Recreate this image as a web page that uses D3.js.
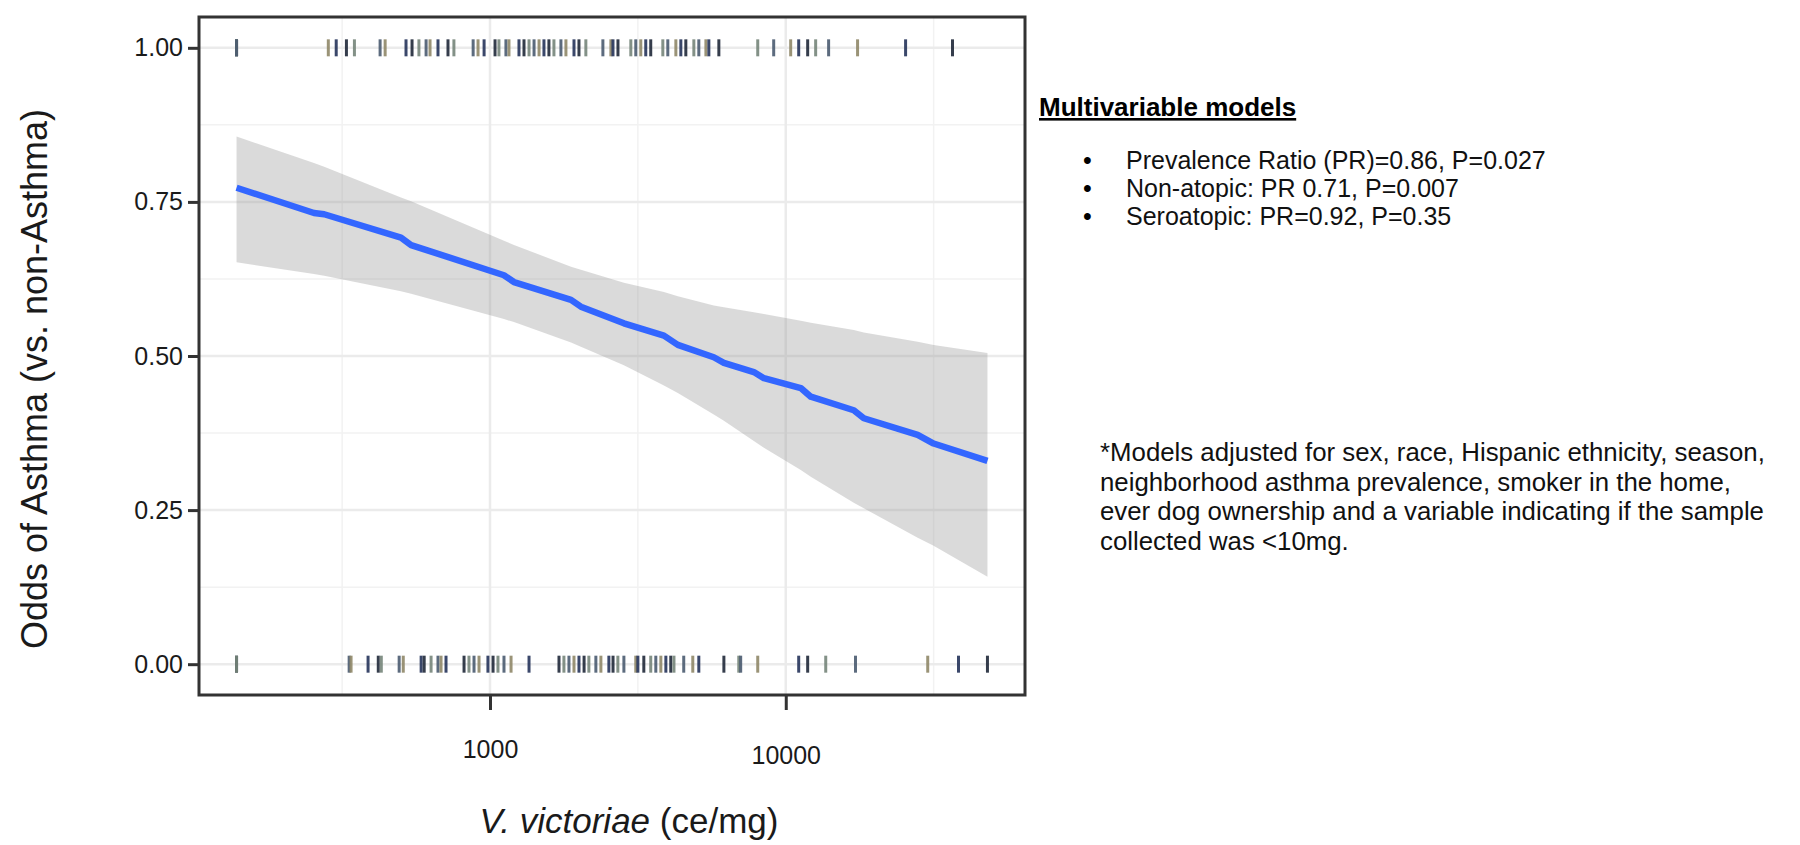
<!DOCTYPE html>
<html>
<head>
<meta charset="utf-8">
<script src="https://cdn.jsdelivr.net/npm/d3@7"></script>
<style>
  body { margin: 0; background: #fff; }
  svg { display: block; font-family: "Liberation Sans", Arial, sans-serif; }
</style>
</head>
<body>
<svg></svg>
<script>
const width = 1800;
const height = 845;

// V. victoriae (ce/mg) of each child, asthma cases drawn at 1, non-cases at 0
const asthmaConc = [139, 139, 139, 284, 302, 327, 348, 425, 442, 520, 545, 575, 608, 627, 667, 721, 755,
  877, 911, 955, 1040, 1072, 1132, 1159, 1253, 1303, 1355, 1409, 1465, 1522, 1582, 1645, 1737, 1806,
  1923, 1999, 2109, 2408, 2563, 2605, 2708, 2993, 3111, 3234, 3362, 3495, 3840, 3992, 4250, 4418,
  4593, 4889, 5082, 5370, 5495, 5940, 8040, 9103, 10390, 11060, 11860, 12620, 13960, 17490, 25420, 36620];
const nonAsthmaConc = [139, 139, 334, 339, 387, 419, 429, 493, 509, 585, 599, 632, 667, 683, 710, 817, 849,
  883, 918, 984, 1024, 1064, 1115, 1178, 1355, 1711, 1778, 1849, 1923, 1999, 2080, 2159, 2280, 2371,
  2523, 2606, 2706, 2836, 3111, 3162, 3312, 3495, 3636, 3781, 3932, 4085, 4188, 4519, 4849, 5082,
  6177, 6937, 7040, 8040, 11060, 11860, 13650, 17210, 30200, 38370, 48080];

// smoothed odds of asthma with its confidence band
const fitConc = [139, 254, 275, 500, 541, 1115, 1205, 1879, 2029, 2836, 3873, 4316, 5710, 6177,
  7800, 8435, 11240, 12150, 16980, 18360, 27930, 31620, 48080];
const fitOdds = [0.773, 0.732, 0.730, 0.692, 0.680, 0.631, 0.620, 0.591, 0.580, 0.553, 0.533, 0.518,
  0.498, 0.489, 0.474, 0.464, 0.448, 0.434, 0.412, 0.399, 0.372, 0.358, 0.330];
const fitLower = [0.652, 0.633, 0.630, 0.605, 0.601, 0.560, 0.555, 0.522, 0.515, 0.485, 0.452, 0.440,
  0.405, 0.395, 0.362, 0.351, 0.315, 0.304, 0.262, 0.253, 0.205, 0.192, 0.142];
const fitUpper = [0.856, 0.813, 0.807, 0.757, 0.751, 0.687, 0.680, 0.645, 0.640, 0.619, 0.604, 0.597,
  0.582, 0.579, 0.571, 0.568, 0.557, 0.554, 0.542, 0.538, 0.523, 0.518, 0.505];

const yTicks = [0, 0.25, 0.5, 0.75, 1];
const yMinor = [0.125, 0.375, 0.625, 0.875];
const xTicks = [1000, 10000];
const xMinor = [316.23, 3162.3, 31623];

const modelTitle = "Multivariable models";
const modelLines = [
  "Prevalence Ratio (PR)=0.86, P=0.027",
  "Non-atopic: PR 0.71, P=0.007",
  "Seroatopic: PR=0.92, P=0.35"
];
const noteLines = [
  "*Models adjusted for sex, race, Hispanic ethnicity, season,",
  "neighborhood asthma prevalence, smoker in the home,",
  "ever dog ownership and a variable indicating if the sample",
  "collected was <10mg."
];

const rugColors = ["#1f2838", "#76857a", "#4a5b70", "#8f8768", "#25335a"];

const svg = d3.select("svg").attr("width", width).attr("height", height);

const panel = { left: 199, right: 1025, top: 17, bottom: 695 };

// log x with 5% padding like ggplot
const allConc = asthmaConc.concat(nonAsthmaConc);
const lx = d3.extent(allConc).map(Math.log10);
const pad = (lx[1] - lx[0]) * 0.05;
const x = d3.scaleLog()
  .domain([Math.pow(10, lx[0] - pad), Math.pow(10, lx[1] + pad)])
  .range([panel.left, panel.right]);
const y = d3.scaleLinear().domain([-0.05, 1.05]).range([panel.bottom, panel.top]);

// grid
const grid = svg.append("g");
grid.selectAll(".ymin").data(yMinor).enter().append("line")
  .attr("x1", panel.left).attr("x2", panel.right)
  .attr("y1", d => y(d)).attr("y2", d => y(d))
  .attr("stroke", "#f2f2f2").attr("stroke-width", 1.5);
grid.selectAll(".xmin").data(xMinor).enter().append("line")
  .attr("y1", panel.top).attr("y2", panel.bottom)
  .attr("x1", d => x(d)).attr("x2", d => x(d))
  .attr("stroke", "#f2f2f2").attr("stroke-width", 1.5);
grid.selectAll(".ymaj").data(yTicks).enter().append("line")
  .attr("x1", panel.left).attr("x2", panel.right)
  .attr("y1", d => y(d)).attr("y2", d => y(d))
  .attr("stroke", "#ebebeb").attr("stroke-width", 2.5);
grid.selectAll(".xmaj").data(xTicks).enter().append("line")
  .attr("y1", panel.top).attr("y2", panel.bottom)
  .attr("x1", d => x(d)).attr("x2", d => x(d))
  .attr("stroke", "#ebebeb").attr("stroke-width", 2.5);

// confidence band + fit
const fit = fitConc.map((c, i) => ({ c: c, y: fitOdds[i], lo: fitLower[i], hi: fitUpper[i] }));

svg.append("path")
  .datum(fit)
  .attr("d", d3.area().x(d => x(d.c)).y0(d => y(d.lo)).y1(d => y(d.hi)))
  .attr("fill", "#999999")
  .attr("fill-opacity", 0.36);

svg.append("path")
  .datum(fit)
  .attr("d", d3.line().x(d => x(d.c)).y(d => y(d.y)))
  .attr("fill", "none")
  .attr("stroke", "#3366ff")
  .attr("stroke-width", 6.5)
  .attr("stroke-linejoin", "round");

// rug ticks at 1 and 0
function drawRug(data, level) {
  svg.append("g").selectAll("line")
    .data(data)
    .enter().append("line")
    .attr("x1", d => x(d)).attr("x2", d => x(d))
    .attr("y1", y(level) - 8.5).attr("y2", y(level) + 8.5)
    .attr("stroke", (d, i) => rugColors[i % rugColors.length])
    .attr("stroke-opacity", 0.9)
    .attr("stroke-width", 3);
}
drawRug(asthmaConc, 1);
drawRug(nonAsthmaConc, 0);

// panel border
svg.append("rect")
  .attr("x", panel.left).attr("y", panel.top)
  .attr("width", panel.right - panel.left).attr("height", panel.bottom - panel.top)
  .attr("fill", "none").attr("stroke", "#333").attr("stroke-width", 3);

// axes
const yAxis = svg.append("g")
  .attr("transform", `translate(${panel.left},0)`)
  .call(d3.axisLeft(y).tickValues(yTicks).tickFormat(d3.format(".2f")).tickSize(11).tickPadding(5));
const xAxis = svg.append("g")
  .attr("transform", `translate(0,${panel.bottom})`)
  .call(d3.axisBottom(x).tickValues(xTicks).tickFormat(d3.format("d")).tickSize(15).tickPadding(30));

[yAxis, xAxis].forEach(a => {
  a.select(".domain").remove();
  a.selectAll(".tick line").attr("stroke", "#333").attr("stroke-width", 3);
  a.selectAll(".tick text")
    .attr("fill", "#1a1a1a")
    .style("font-size", "25px")
    .style("font-family", "'Liberation Sans', Arial, sans-serif");
});
// the 10000 label sits a little lower in the original
xAxis.selectAll(".tick text").filter(d => d === 10000).attr("y", 51);

// axis titles
const xTitle = svg.append("text")
  .attr("x", 629).attr("y", 833)
  .attr("text-anchor", "middle")
  .style("font-size", "35px")
  .attr("fill", "#1a1a1a");
xTitle.append("tspan").style("font-style", "italic").text("V. victoriae");
xTitle.append("tspan").text(" (ce/mg)");

svg.append("text")
  .attr("transform", "translate(47,379) rotate(-90)")
  .attr("text-anchor", "middle")
  .style("font-size", "36px")
  .attr("fill", "#1a1a1a")
  .text("Odds of Asthma (vs. non-Asthma)");

// model results
svg.append("text")
  .attr("x", 1039).attr("y", 116)
  .style("font-size", "26px").style("font-weight", "bold")
  .style("text-decoration", "underline")
  .attr("fill", "#000")
  .text(modelTitle);

const bullets = svg.append("g");
bullets.selectAll("text.b").data(modelLines).enter().append("text")
  .attr("x", 1083).attr("y", (d, i) => 169 + i * 28)
  .style("font-size", "25px").attr("fill", "#000")
  .text("•");
bullets.selectAll("text.t").data(modelLines).enter().append("text")
  .attr("x", 1126).attr("y", (d, i) => 169 + i * 28)
  .style("font-size", "25px").attr("fill", "#111")
  .text(d => d);

svg.append("g").selectAll("text").data(noteLines).enter().append("text")
  .attr("x", 1100).attr("y", (d, i) => 461 + i * 29.5)
  .style("font-size", "25.8px").attr("fill", "#111")
  .text(d => d);
</script>
</body>
</html>
